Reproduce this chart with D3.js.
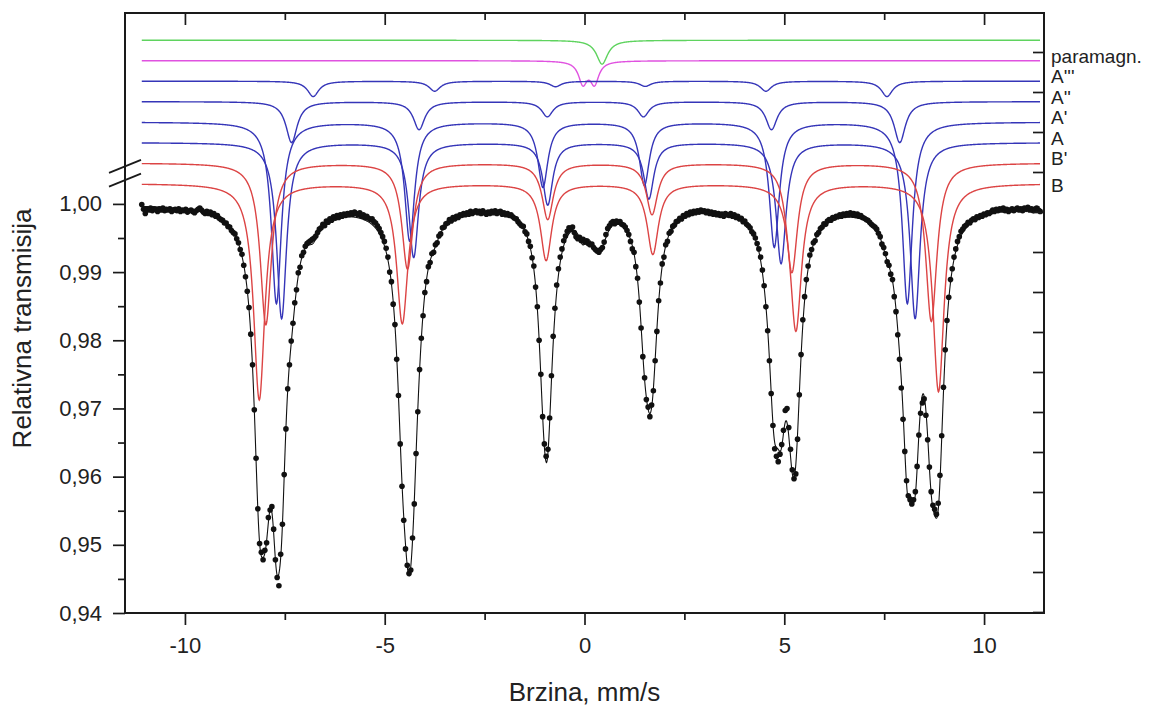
<!DOCTYPE html>
<html><head><meta charset="utf-8">
<script src="https://cdn.jsdelivr.net/npm/d3@7"></script>
<style>body{margin:0;background:#fff;}svg{display:block;}</style>
</head><body><svg id="c" width="1163" height="706"></svg>
<script>
// ---------- DATA ----------
const velocityStart = -11.08;   // mm/s, first channel
const velocityStep = 0.044;     // mm/s per channel
const transmission = [
.9999,.9992,.9986,.9993,.9991,.9994,.9990,.9993,.9992,.9989,
.9993,.9991,.9994,.9990,.9992,.9991,.9993,.9989,.9991,.9992,
.9990,.9993,.9989,.9991,.9990,.9992,.9988,.9990,.9991,.9989,
.9987,.9990,.9992,.9994,.9991,.9988,.9986,.9989,.9986,.9988,
.9984,.9986,.9982,.9983,.9979,.9977,.9976,.9972,.9972,.9967,
.9966,.9961,.9958,.9956,.9949,.9943,.9933,.9926,.9910,.9893,
.9872,.9848,.9809,.9764,.9698,.9627,.9553,.9502,.9489,.9478,
.9492,.9503,.9540,.9551,.9556,.9523,.9478,.9452,.9440,.9486,
.9530,.9603,.9670,.9729,.9764,.9799,.9825,.9855,.9874,.9899,
.9907,.9924,.9929,.9938,.9942,.9944,.9946,.9948,.9950,.9953,
.9958,.9963,.9965,.9970,.9968,.9975,.9973,.9978,.9976,.9981,
.9979,.9983,.9980,.9984,.9982,.9985,.9983,.9986,.9984,.9987,
.9985,.9988,.9986,.9984,.9987,.9982,.9984,.9980,.9982,.9979,
.9977,.9978,.9974,.9972,.9968,.9964,.9958,.9952,.9945,.9935,
.9922,.9900,.9886,.9853,.9823,.9772,.9719,.9648,.9586,.9536,
.9494,.9470,.9458,.9463,.9510,.9560,.9634,.9695,.9757,.9803,
.9836,.9870,.9886,.9908,.9914,.9927,.9929,.9940,.9943,.9953,
.9956,.9965,.9966,.9971,.9972,.9977,.9975,.9980,.9978,.9982,
.9980,.9984,.9983,.9986,.9984,.9987,.9985,.9989,.9986,.9988,
.9990,.9987,.9989,.9986,.9990,.9987,.9985,.9988,.9986,.9989,
.9987,.9990,.9986,.9988,.9989,.9985,.9987,.9984,.9986,.9983,
.9984,.9981,.9979,.9978,.9974,.9971,.9968,.9967,.9959,.9956,
.9945,.9938,.9921,.9909,.9878,.9849,.9800,.9750,.9688,.9648,
.9630,.9640,.9686,.9748,.9806,.9847,.9881,.9905,.9922,.9934,
.9946,.9953,.9960,.9965,.9963,.9966,.9958,.9952,.9949,.9951,
.9946,.9948,.9944,.9946,.9942,.9940,.9941,.9936,.9933,.9931,
.9929,.9933,.9936,.9944,.9955,.9964,.9968,.9972,.9974,.9971,
.9975,.9973,.9974,.9970,.9969,.9966,.9961,.9955,.9945,.9934,
.9929,.9908,.9891,.9856,.9818,.9776,.9745,.9713,.9702,.9688,
.9705,.9726,.9770,.9813,.9858,.9884,.9912,.9922,.9940,.9945,
.9957,.9960,.9967,.9969,.9974,.9975,.9979,.9978,.9983,.9982,
.9986,.9984,.9988,.9986,.9989,.9987,.9990,.9988,.9991,.9989,
.9990,.9987,.9989,.9986,.9988,.9985,.9987,.9984,.9986,.9983,
.9985,.9982,.9986,.9984,.9983,.9986,.9982,.9984,.9980,.9982,
.9978,.9979,.9974,.9975,.9970,.9968,.9965,.9959,.9956,.9950,
.9942,.9934,.9922,.9903,.9880,.9849,.9814,.9770,.9722,.9675,
.9641,.9630,.9622,.9633,.9647,.9668,.9697,.9700,.9672,.9640,
.9610,.9597,.9604,.9655,.9720,.9779,.9830,.9864,.9889,.9909,
.9925,.9933,.9943,.9946,.9955,.9958,.9964,.9966,.9971,.9970,
.9975,.9977,.9976,.9980,.9979,.9982,.9981,.9984,.9982,.9985,
.9983,.9986,.9984,.9987,.9985,.9986,.9983,.9985,.9982,.9983,
.9980,.9979,.9977,.9976,.9973,.9970,.9968,.9966,.9963,.9957,
.9952,.9941,.9936,.9927,.9915,.9910,.9897,.9889,.9864,.9842,
.9808,.9772,.9730,.9684,.9637,.9594,.9572,.9566,.9560,.9566,
.9578,.9615,.9661,.9693,.9708,.9714,.9690,.9654,.9614,.9578,
.9558,.9552,.9545,.9561,.9602,.9660,.9731,.9786,.9829,.9863,
.9889,.9905,.9922,.9934,.9945,.9952,.9960,.9963,.9967,.9969,
.9973,.9972,.9976,.9978,.9977,.9981,.9980,.9983,.9982,.9985,
.9984,.9987,.9986,.9988,.9991,.9989,.9992,.9990,.9993,.9991,
.9994,.9990,.9992,.9989,.9991,.9993,.9990,.9992,.9994,.9991,
.9993,.9990,.9994,.9992,.9995,.9991,.9993,.9990,.9992,.9994,
.9991,.9989
];

// fitted sub-spectra: line positions (mm/s) and depths (transmission units)
const sextetB_pos   = [-8.14, -4.56, -0.96, 1.71, 5.29, 8.86];
const sextetB_depth = [0.0317, 0.0205, 0.0112, 0.0103, 0.0216, 0.0305];
const sextetB1_pos   = [-7.975, -4.43, -0.92, 1.69, 5.19, 8.68];      // B'
const sextetB1_depth = [0.0237, 0.0155, 0.0082, 0.0075, 0.0160, 0.0232];
const sextetA_pos   = [-7.58, -4.275, -0.92, 1.61, 4.92, 8.275];
const sextetA_depth = [0.0258, 0.0168, 0.0091, 0.0082, 0.0177, 0.0258];
const sextetA1_pos   = [-7.71, -4.375, -1.04, 1.50, 4.75, 8.08];      // A'
const sextetA1_depth = [0.0266, 0.0174, 0.0095, 0.0092, 0.0183, 0.0266];
const sextetA2_pos   = [-7.33, -4.14, -0.93, 1.475, 4.68, 7.89];      // A''
const sextetA2_depth = [0.0060, 0.0041, 0.0022, 0.0022, 0.0041, 0.0060];
const sextetA3_pos   = [-6.79, -3.75, -0.725, 1.52, 4.54, 7.57];      // A'''
const sextetA3_depth = [0.00225, 0.00147, 0.0008, 0.00075, 0.00147, 0.00225];
const doublet_pos   = [-0.04, 0.25];
const doublet_depth = [0.0032, 0.0032];
const singlet_pos   = [0.44];
const singlet_depth = [0.0035];

const componentHalfWidths = [0.17, 0.13, 0.17, 0.17, 0.15, 0.15, 0.17, 0.17]; // top to bottom
const componentOffsets    = [1.024, 1.021, 1.018, 1.015, 1.012, 1.009, 1.006, 1.003];
const componentLabels     = ["paramagn.", "A'''", "A''", "A'", "A", "B'", "B"];

// axis ticks
const yMajorTicks = [0.94, 0.95, 0.96, 0.97, 0.98, 0.99, 1.00];
const yMinorTicks = [0.945, 0.955, 0.965, 0.975, 0.985, 0.995];
const xMajorTicks = [-10, -5, 0, 5, 10];
const xMinorTicks = [-7.5, -2.5, 2.5, 7.5];
const rightTicks  = [0,1,2,3,4,5,6,7,8,9,10,11,12,13,14];

// ---------- CHART ----------
const FONT = "'Liberation Sans', Arial, sans-serif";
const svg = d3.select('#c');
const x = d3.scaleLinear().domain([-11.5, 11.5]).range([125, 1044]);
const y = d3.scaleLinear().domain([0.94, 1.028]).range([613, 13]);
const yR = d3.scaleLinear().domain([0, 15]).range([612, 12]);

const GREEN = '#5fd35f', MAGENTA = '#e052e0', BLUE = '#3535b8', RED = '#dc4444';
const components = [
  {pos: singlet_pos,  depth: singlet_depth,  color: GREEN},
  {pos: doublet_pos,  depth: doublet_depth,  color: MAGENTA},
  {pos: sextetA3_pos, depth: sextetA3_depth, color: BLUE},
  {pos: sextetA2_pos, depth: sextetA2_depth, color: BLUE},
  {pos: sextetA1_pos, depth: sextetA1_depth, color: BLUE},
  {pos: sextetA_pos,  depth: sextetA_depth,  color: BLUE},
  {pos: sextetB1_pos, depth: sextetB1_depth, color: RED},
  {pos: sextetB_pos,  depth: sextetB_depth,  color: RED}
].map((c, i) => ({...c, gamma: componentHalfWidths[i], offset: componentOffsets[i]}));

function absorption(v, c) {
  let s = 0;
  for (let k = 0; k < c.pos.length; k++) {
    const t = (v - c.pos[k]) / c.gamma;
    s += c.depth[k] / (1 + t * t);
  }
  return s;
}

const points = transmission.map((t, i) => ({v: velocityStart + i * velocityStep, t}));
const vMin = points[0].v, vMax = points[points.length - 1].v;
const grid = d3.range(vMin, vMax + 1e-9, 0.01);

const line = d3.line().x(d => x(d[0])).y(d => y(d[1]));

// component curves
const gc = svg.append('g');
components.forEach(c => {
  gc.append('path')
    .attr('d', line(grid.map(v => [v, c.offset - absorption(v, c)])))
    .attr('fill', 'none').attr('stroke', c.color).attr('stroke-width', 1.4);
});

// data points
svg.append('g').selectAll('circle').data(points).join('circle')
  .attr('cx', d => x(d.v)).attr('cy', d => y(d.t)).attr('r', 2.8).attr('fill', '#111');

// fit (sum of components)
svg.append('path')
  .attr('d', line(grid.map(v => [v, 1 - d3.sum(components, c => absorption(v, c))])))
  .attr('fill', 'none').attr('stroke', '#111').attr('stroke-width', 1.1);

// frame
svg.append('rect').attr('x', x(-11.5)).attr('y', y(1.028))
  .attr('width', x(11.5) - x(-11.5)).attr('height', y(0.94) - y(1.028))
  .attr('fill', 'none').attr('stroke', '#1a1a1a').attr('stroke-width', 2);

const loc = d3.formatLocale({decimal: ",", thousands: ".", grouping: [3], currency: ["", ""], minus: "-"});
function addAxis(axis, tx, ty) {
  const g = svg.append('g').attr('transform', `translate(${tx},${ty})`).call(axis);
  g.select('.domain').remove();
  g.attr('font-family', FONT).attr('font-size', 22);
  g.selectAll('line').attr('stroke', '#1a1a1a').attr('stroke-width', 1.7);
  g.selectAll('text').attr('fill', '#222');
  return g;
}
addAxis(d3.axisLeft(y).tickValues(yMajorTicks).tickFormat(loc.format(".2f")).tickSize(12).tickPadding(11), x(-11.5), 0);
addAxis(d3.axisLeft(y).tickValues(yMinorTicks).tickFormat('').tickSize(7), x(-11.5), 0);
addAxis(d3.axisBottom(x).tickValues(xMajorTicks).tickFormat(loc.format("d")).tickSize(12).tickPadding(12), 0, y(0.94));
addAxis(d3.axisBottom(x).tickValues(xMinorTicks).tickFormat('').tickSize(7), 0, y(0.94));
addAxis(d3.axisTop(x).tickValues(xMajorTicks).tickFormat('').tickSize(-12), 0, y(1.028));
addAxis(d3.axisTop(x).tickValues(xMinorTicks).tickFormat('').tickSize(-7), 0, y(1.028));
addAxis(d3.axisLeft(yR).tickValues(rightTicks).tickFormat('').tickSize(11), x(11.5), 0);

// axis break marks
[1.0055, 1.0035].forEach(b => {
  svg.append('line')
    .attr('x1', x(-11.5) - 16).attr('y1', y(b) + 6.5)
    .attr('x2', x(-11.5) + 16).attr('y2', y(b) - 6.5)
    .attr('stroke', '#1a1a1a').attr('stroke-width', 1.8);
});

// component labels (attached to the baseline of each sub-spectrum)
const labelOffsets = componentOffsets.slice(1);
svg.append('g').selectAll('text').data(componentLabels).join('text')
  .attr('x', x(11.5) + 7)
  .attr('y', (d, i) => y(labelOffsets[i]) + (i === 6 ? 8.5 : 2))
  .attr('font-family', FONT).attr('font-size', 19).attr('fill', '#222')
  .text(d => d);

// axis titles
svg.append('text').attr('x', x(0)).attr('y', 701).attr('text-anchor', 'middle')
  .attr('font-family', FONT).attr('font-size', 26).attr('fill', '#222').text('Brzina, mm/s');
svg.append('text').attr('transform', `translate(31,${(y(0.94)+y(1.0))/2 - 80}) rotate(-90)`)
  .attr('text-anchor', 'middle')
  .attr('font-family', FONT).attr('font-size', 26).attr('fill', '#222').text('Relativna transmisija');
</script></body></html>
